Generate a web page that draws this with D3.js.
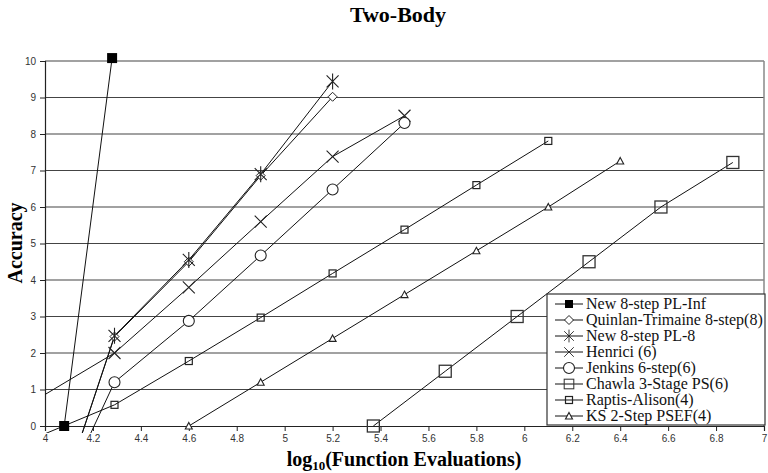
<!DOCTYPE html>
<html>
<head>
<meta charset="utf-8">
<script src="https://cdn.jsdelivr.net/npm/d3@7"></script>
<style>
  body { margin: 0; background: #fff; }
  svg { display: block; }
</style>
</head>
<body>
<script>
// series names (legend order)
let seriesNames = ['New 8-step PL-Inf', 'Quinlan-Trimaine 8-step(8)', 'New 8-step PL-8', 'Henrici (6)',
                   'Jenkins 6-step(6)', 'Chawla 3-Stage PS(6)', 'Raptis-Alison(4)', 'KS 2-Step PSEF(4)'];
let seriesMarks = ['fsquare', 'diamond', 'star', 'cross', 'circle', 'bigsquare', 'smallsquare', 'triangle'];

// log10(function evaluations) and accuracy
let plInfX = [4.08, 4.28];
let plInfY = [0, 10.08];
let quinlanX = [4.15, 4.29, 4.6, 4.9, 5.2];
let quinlanY = [-0.3, 2.45, 4.5, 6.86, 9.02];
let pl8X = [4.15, 4.29, 4.6, 4.9, 5.2];
let pl8Y = [-0.3, 2.47, 4.55, 6.9, 9.44];
let henriciX = [3.78, 4.29, 4.6, 4.9, 5.2, 5.5];
let henriciY = [0, 2.0, 3.8, 5.6, 7.38, 8.5];
let jenkinsX = [4.18, 4.29, 4.6, 4.9, 5.2, 5.5];
let jenkinsY = [-0.35, 1.2, 2.88, 4.67, 6.48, 8.3];
let chawlaX = [5.37, 5.67, 5.97, 6.27, 6.57, 6.87];
let chawlaY = [0, 1.5, 3.0, 4.5, 6.0, 7.22];
let raptisX = [3.95, 4.29, 4.6, 4.9, 5.2, 5.5, 5.8, 6.1];
let raptisY = [-0.35, 0.58, 1.78, 2.97, 4.18, 5.38, 6.6, 7.81];
let ksX = [4.6, 4.9, 5.2, 5.5, 5.8, 6.1, 6.4];
let ksY = [0, 1.2, 2.4, 3.6, 4.8, 6.0, 7.26];

let xTicks = [4, 4.2, 4.4, 4.6, 4.8, 5, 5.2, 5.4, 5.6, 5.8, 6, 6.2, 6.4, 6.6, 6.8, 7];
let yTicks = [0, 1, 2, 3, 4, 5, 6, 7, 8, 9, 10];

let allX = [plInfX, quinlanX, pl8X, henriciX, jenkinsX, chawlaX, raptisX, ksX];
let allY = [plInfY, quinlanY, pl8Y, henriciY, jenkinsY, chawlaY, raptisY, ksY];

let series = seriesNames.map(function(name, i) {
  return {
    name: name,
    mark: seriesMarks[i],
    pts: allX[i].map(function(x, j) { return [x, allY[i][j]]; })
  };
});

let W = 768, H = 473;
let plotL = 45, plotR = 764, plotT = 61, plotB = 426;

let x = d3.scaleLinear().domain([4, 7]).range([plotL, plotR]);
let y = d3.scaleLinear().domain([0, 10]).range([plotB, plotT]);

let svg = d3.select('body').append('svg')
  .attr('width', W)
  .attr('height', H);

svg.append('defs').append('clipPath').attr('id', 'plot')
  .append('rect')
  .attr('x', plotL).attr('y', 40)
  .attr('width', plotR - plotL).attr('height', plotB + 7 - 40);

// gridlines
svg.append('g').selectAll('line')
  .data(yTicks.slice(1))
  .enter().append('line')
  .attr('x1', plotL).attr('x2', plotR)
  .attr('y1', function(d) { return y(d); })
  .attr('y2', function(d) { return y(d); })
  .attr('stroke', '#444')
  .attr('stroke-width', 1.2);

// right border of plot area
svg.append('line')
  .attr('x1', plotR).attr('x2', plotR)
  .attr('y1', plotT).attr('y2', plotB)
  .attr('stroke', '#888').attr('stroke-width', 1.5);

// axes
let yAxis = d3.axisLeft(y).tickValues(yTicks).tickSize(5).tickPadding(4).tickFormat(d3.format('d'));
let xAxis = d3.axisBottom(x).tickValues(xTicks).tickSize(5).tickPadding(4).tickFormat(function(d) { return String(+d.toFixed(1)); });

svg.append('g')
  .attr('transform', 'translate(' + plotL + ',0)')
  .call(yAxis)
  .call(function(g) {
    g.select('.domain').attr('stroke', '#222').attr('stroke-width', 1.2);
    g.selectAll('.tick line').attr('stroke', '#222');
    g.selectAll('text').attr('font-family', 'Liberation Sans, Arial, sans-serif').attr('font-size', 10).attr('fill', '#333');
  });

svg.append('g')
  .attr('transform', 'translate(0,' + plotB + ')')
  .call(xAxis)
  .call(function(g) {
    g.select('.domain').attr('stroke', '#222').attr('stroke-width', 1.2);
    g.selectAll('.tick line').attr('stroke', '#222');
    g.selectAll('text').attr('font-family', 'Liberation Sans, Arial, sans-serif').attr('font-size', 10).attr('fill', '#333');
  });

// series lines
let line = d3.line()
  .x(function(d) { return x(d[0]); })
  .y(function(d) { return y(d[1]); });

svg.append('g').attr('clip-path', 'url(#plot)')
  .selectAll('path')
  .data(series)
  .enter().append('path')
  .attr('d', function(s) { return line(s.pts); })
  .attr('fill', 'none')
  .attr('stroke', '#111')
  .attr('stroke-width', 1);

// marker drawing
function drawMark(g, mark) {
  if (mark === 'fsquare') {
    g.append('rect').attr('x', -5).attr('y', -5).attr('width', 10).attr('height', 10).attr('fill', '#000');
  } else if (mark === 'diamond') {
    g.append('path').attr('d', 'M0,-4.5L4.5,0L0,4.5L-4.5,0Z').attr('fill', '#fff').attr('stroke', '#222');
  } else if (mark === 'star') {
    g.append('path').attr('d', 'M-6,-6L6,6M-6,6L6,-6M0,-8L0,8').attr('stroke', '#222').attr('stroke-width', 1.1);
  } else if (mark === 'cross') {
    g.append('path').attr('d', 'M-6,-6L6,6M-6,6L6,-6').attr('stroke', '#222').attr('stroke-width', 1.1);
  } else if (mark === 'circle') {
    g.append('circle').attr('r', 5.5).attr('fill', '#fff').attr('stroke', '#222').attr('stroke-width', 1.1);
  } else if (mark === 'bigsquare') {
    g.append('rect').attr('x', -6).attr('y', -6).attr('width', 12).attr('height', 12).attr('fill', 'none').attr('stroke', '#333').attr('stroke-width', 1.3);
  } else if (mark === 'smallsquare') {
    g.append('rect').attr('x', -3.5).attr('y', -3.5).attr('width', 7).attr('height', 7).attr('fill', 'none').attr('stroke', '#222').attr('stroke-width', 1.2);
  } else if (mark === 'triangle') {
    g.append('path').attr('d', 'M0,-3.5L3.5,3L-3.5,3Z').attr('fill', '#fff').attr('stroke', '#222').attr('stroke-width', 1.1);
  }
}

// markers (only points inside the axis range)
series.forEach(function(s) {
  svg.append('g').selectAll('g')
    .data(s.pts.filter(function(p) { return p[0] >= 4 && p[1] >= 0; }))
    .enter().append('g')
    .attr('transform', function(p) { return 'translate(' + x(p[0]) + ',' + y(p[1]) + ')'; })
    .each(function() { drawMark(d3.select(this), s.mark); });
});

// legend
let lg = svg.append('g').attr('transform', 'translate(547,294)');
lg.append('rect')
  .attr('width', 218).attr('height', 131)
  .attr('fill', '#fff').attr('stroke', '#333').attr('stroke-width', 1.2);

let item = lg.selectAll('.item')
  .data(series)
  .enter().append('g')
  .attr('class', 'item')
  .attr('transform', function(d, i) { return 'translate(0,' + (10 + i * 16) + ')'; });

item.append('line')
  .attr('x1', 8).attr('x2', 36).attr('y1', 0).attr('y2', 0)
  .attr('stroke', '#111').attr('stroke-width', 1);

item.append('g')
  .each(function(d) {
    let g = d3.select(this);
    let big = ['fsquare', 'star', 'cross', 'bigsquare'].indexOf(d.mark) >= 0;
    g.attr('transform', 'translate(22,0)' + (big ? ' scale(0.8)' : ''));
    drawMark(g, d.mark);
  });

item.append('text')
  .attr('x', 39).attr('y', 5)
  .attr('font-family', 'Liberation Serif, Times New Roman, serif')
  .attr('font-size', 16)
  .attr('fill', '#111')
  .text(function(d) { return d.name; });

// title and axis titles
svg.append('text')
  .attr('x', 398).attr('y', 22)
  .attr('text-anchor', 'middle')
  .attr('font-family', 'Liberation Serif, Times New Roman, serif')
  .attr('font-weight', 'bold').attr('font-size', 22)
  .text('Two-Body');

svg.append('text')
  .attr('transform', 'translate(22,243) rotate(-90)')
  .attr('text-anchor', 'middle')
  .attr('font-family', 'Liberation Serif, Times New Roman, serif')
  .attr('font-weight', 'bold').attr('font-size', 20)
  .text('Accuracy');

let xl = svg.append('text')
  .attr('x', 404).attr('y', 466)
  .attr('text-anchor', 'middle')
  .attr('font-family', 'Liberation Serif, Times New Roman, serif')
  .attr('font-weight', 'bold').attr('font-size', 20);
xl.append('tspan').text('log');
xl.append('tspan').attr('font-size', 13).attr('dy', 4).text('10');
xl.append('tspan').attr('dy', -4).text('(Function Evaluations)');
</script>
</body>
</html>
